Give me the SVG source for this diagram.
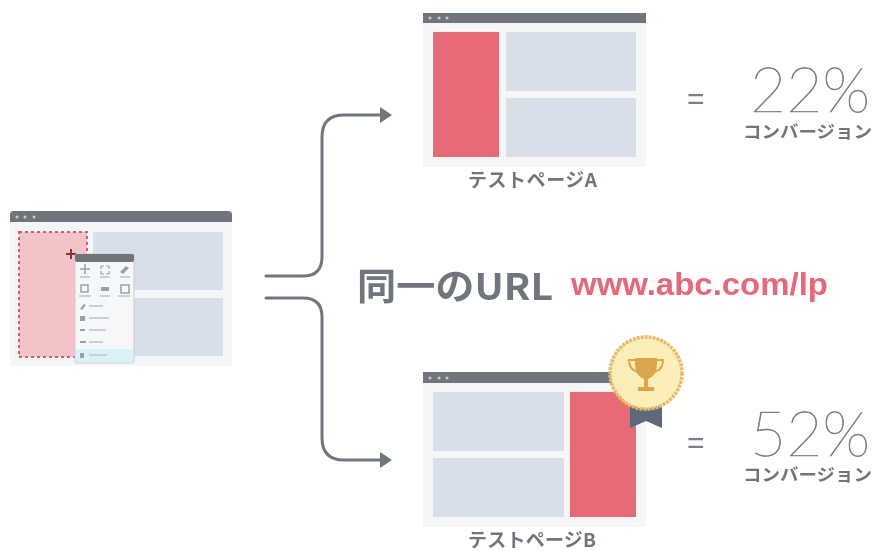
<svg xmlns="http://www.w3.org/2000/svg" width="875" height="551" viewBox="0 0 875 551">
<defs>
<style>
.frame{fill:#f5f6f8}
.bar{fill:#6f747c}
.panel{fill:#d9dfe8}
.red{fill:#e86a77}
.dot{fill:#c9ccc9}
.conn{fill:none;stroke:#71767e;stroke-width:3;stroke-linecap:round}
.head{fill:#71767e}
.pct{font-family:"Lato","Noto Sans CJK JP",sans-serif;font-weight:100;font-size:62px;fill:#7a7f87;stroke:#7a7f87;stroke-width:0.7}
.eq{font-family:"Liberation Sans",sans-serif;font-size:30px;fill:#7a7f87}
.conv{font-family:"Noto Sans CJK JP",sans-serif;font-weight:700;font-size:17px;fill:#71767e}
.cap{font-family:"Noto Sans CJK JP",sans-serif;font-weight:700;font-size:19px;fill:#71767e}
.tool{fill:#9aa0a8}
.toolbar{fill:#ccd0d5}
</style>
<filter id="soft" x="-5%" y="-5%" width="110%" height="110%"><feGaussianBlur stdDeviation="0.6"/></filter>
<filter id="softer" x="-5%" y="-10%" width="110%" height="120%"><feGaussianBlur stdDeviation="0.4"/></filter>
<marker id="arrow" markerWidth="14" markerHeight="16" refX="1" refY="8" orient="auto" markerUnits="userSpaceOnUse"><path class="head" d="M1 0L13 8L1 16Z"/></marker>
</defs>
<rect width="875" height="551" fill="#ffffff"/>
<g id="connectors">
<path class="conn" marker-end="url(#arrow)" d="M266 276H303Q322 276 322 257V137Q322 115 344 115H380"/>
<path class="conn" marker-end="url(#arrow)" d="M266 298H303Q322 298 322 317V438Q322 460 344 460H380"/>
</g>
<g id="source-page" filter="url(#soft)">
<rect class="frame" x="10" y="211" width="222" height="155"/>
<path class="bar" d="M10 222V215Q10 211 14 211H228Q232 211 232 215V222Z"/>
<circle class="dot" cx="17" cy="217" r="1.5"/><circle class="dot" cx="25" cy="217" r="1.5"/><circle class="dot" cx="34" cy="217" r="1.5"/>
<rect x="19" y="232" width="68" height="125" fill="#f3c3c8" stroke="#e0596a" stroke-width="2" stroke-dasharray="3 3"/>
<rect class="panel" x="93" y="232" width="130" height="58"/>
<rect class="panel" x="93" y="298" width="130" height="58"/>
<path d="M71 249V259M66 254H76" stroke="#8a3040" stroke-width="2"/>
<rect x="75" y="254" width="59" height="109" rx="2" fill="#f6f7f9" stroke="#c6ccd3"/>
<rect x="75" y="254" width="59" height="8" rx="2" fill="#6f747c"/>
<rect x="76" y="349" width="57" height="13" fill="#d8f2f8"/>
<path d="M85 264V274M80 269H90" stroke="#9aa0a8" stroke-width="1.5"/>
<path d="M101 266h3M106 266h3M101 274h3M106 274h3M101 266v3M109 266v3M101 271v3M109 271v3" stroke="#9aa0a8" stroke-width="1.2" fill="none"/>
<path d="M120 272L126 266L129 268L123 274Z" class="tool"/>
<rect class="toolbar" x="80" y="276" width="10" height="2"/><rect class="toolbar" x="100" y="276" width="10" height="2"/><rect class="toolbar" x="120" y="276" width="10" height="2"/>
<rect x="81" y="285" width="7" height="7" fill="none" stroke="#9aa0a8" stroke-width="1.5"/><rect class="tool" x="101" y="287" width="8" height="4"/><rect x="121" y="285" width="8" height="8" fill="none" stroke="#9aa0a8" stroke-width="1.5"/>
<rect class="toolbar" x="79" y="295" width="12" height="2"/><rect class="toolbar" x="100" y="295" width="10" height="2"/><rect class="toolbar" x="118" y="295" width="12" height="2"/>
<path class="tool" d="M80 309L84 304L86 305L82 310Z"/><rect class="toolbar" x="89" y="305" width="14" height="2"/>
<rect class="tool" x="80" y="316" width="5" height="5"/><rect class="toolbar" x="89" y="317" width="20" height="2"/>
<rect class="tool" x="80" y="329" width="5" height="2"/><rect class="toolbar" x="89" y="329" width="17" height="2"/>
<rect class="tool" x="80" y="341" width="6" height="2"/><rect class="toolbar" x="89" y="341" width="14" height="2"/>
<rect class="tool" x="80" y="353" width="4" height="5"/><rect class="toolbar" x="89" y="354" width="18" height="2"/>
</g>
<g id="page-a">
<g filter="url(#soft)">
<rect class="frame" x="423" y="13" width="223" height="154"/>
<rect class="bar" x="423" y="13" width="223" height="10"/>
<circle class="dot" cx="430" cy="18" r="1.5"/><circle class="dot" cx="439" cy="18" r="1.5"/><circle class="dot" cx="447" cy="18" r="1.5"/>
<rect class="red" x="433" y="32" width="66" height="125"/>
<rect class="panel" x="506" y="32" width="130" height="59"/>
<rect class="panel" x="506" y="98" width="130" height="59"/>
</g>
<text class="cap" x="468" y="187" textLength="129" lengthAdjust="spacing" filter="url(#softer)">テストページA</text>
</g>
<g id="result-a" filter="url(#softer)">
<text class="eq" x="687" y="109">=</text>
<text class="pct" x="750" y="112" textLength="120" lengthAdjust="spacingAndGlyphs">22%</text>
<text class="conv" x="743" y="138" textLength="129" lengthAdjust="spacingAndGlyphs">コンバージョン</text>
</g>
<g id="url-label" filter="url(#softer)">
<text x="357" y="300" font-family="'Noto Sans CJK JP',sans-serif" font-weight="700" font-size="37" fill="#71767e" textLength="196" lengthAdjust="spacingAndGlyphs">同一のURL</text>
<text x="571" y="295" font-family="'Liberation Sans',sans-serif" font-weight="700" font-size="32" fill="#e8677a" textLength="257" lengthAdjust="spacingAndGlyphs">www.abc.com/lp</text>
</g>
<g id="page-b">
<g filter="url(#soft)">
<rect class="frame" x="423" y="372" width="223" height="155"/>
<rect class="bar" x="423" y="372" width="223" height="11"/>
<circle class="dot" cx="430" cy="378" r="1.5"/><circle class="dot" cx="439" cy="378" r="1.5"/><circle class="dot" cx="447" cy="378" r="1.5"/>
<rect class="panel" x="433" y="392" width="131" height="59"/>
<rect class="panel" x="433" y="458" width="131" height="59"/>
<rect class="red" x="570" y="392" width="66" height="125"/>
</g>
<text class="cap" x="468" y="547" textLength="128" lengthAdjust="spacing" filter="url(#softer)">テストページB</text>
</g>
<g id="medal" filter="url(#softer)">
<path d="M630 405H662V428L646 421L630 428Z" fill="#5d6878"/>
<circle cx="646" cy="373" r="36" fill="#fbeeb9" stroke="#e5bd62" stroke-width="3.5" stroke-dasharray="3 1"/>
<path d="M635 358H657V364Q657 376 648 379V387H654V391H638V387H644V379Q635 376 635 364Z" fill="#d9a64c"/>
<path d="M635 360H629Q629 370 638 372M657 360H663Q663 370 654 372" fill="none" stroke="#d9a64c" stroke-width="2"/>
</g>
<g id="result-b" filter="url(#softer)">
<text class="eq" x="687" y="453">=</text>
<text class="pct" x="750" y="456" textLength="120" lengthAdjust="spacingAndGlyphs">52%</text>
<text class="conv" x="743" y="481" textLength="129" lengthAdjust="spacingAndGlyphs">コンバージョン</text>
</g>
</svg>
